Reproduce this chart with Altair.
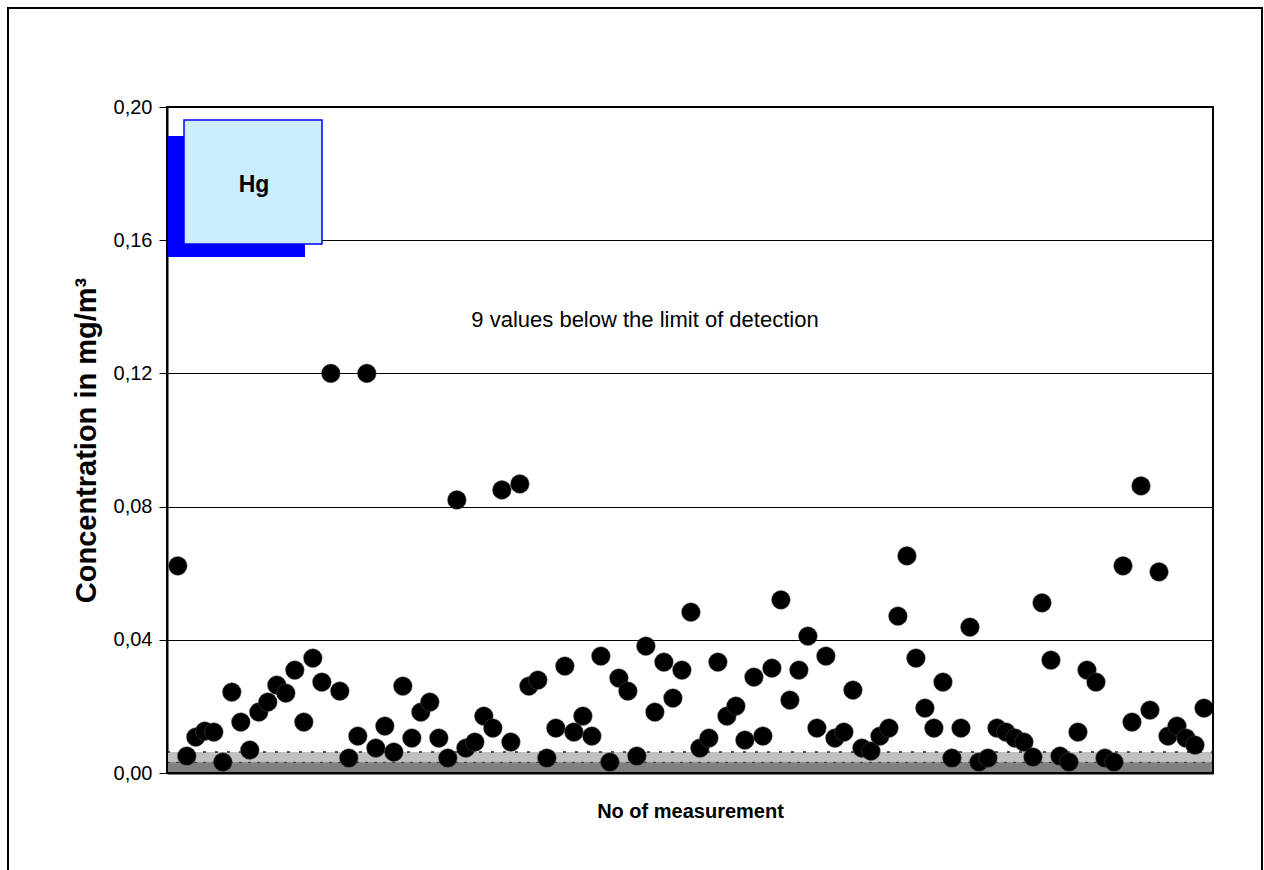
import altair as alt
import pandas as pd

# ---------------- data ----------------
measurement = list(range(1, 116))
concentration = [
    0.0622, 0.0051, 0.0108, 0.0126, 0.0123, 0.0033, 0.0243, 0.0153, 0.0069, 0.0183,
    0.0213, 0.0264, 0.0240, 0.0309, 0.0153, 0.0345, 0.0273, 0.1200, 0.0246, 0.0045,
    0.0111, 0.1200, 0.0075, 0.0141, 0.0063, 0.0261, 0.0105, 0.0183, 0.0213, 0.0105,
    0.0045, 0.0820, 0.0075, 0.0093, 0.0171, 0.0135, 0.0850, 0.0093, 0.0868, 0.0261,
    0.0279, 0.0045, 0.0135, 0.0321, 0.0123, 0.0171, 0.0111, 0.0351, 0.0033, 0.0285,
    0.0246, 0.0051, 0.0381, 0.0183, 0.0333, 0.0225, 0.0309, 0.0483, 0.0075, 0.0105,
    0.0333, 0.0171, 0.0201, 0.0099, 0.0288, 0.0111, 0.0315, 0.0520, 0.0219, 0.0309,
    0.0411, 0.0135, 0.0351, 0.0105, 0.0123, 0.0249, 0.0075, 0.0066, 0.0111, 0.0135,
    0.0471, 0.0652, 0.0345, 0.0195, 0.0135, 0.0273, 0.0045, 0.0135, 0.0438, 0.0033,
    0.0045, 0.0135, 0.0123, 0.0105, 0.0093, 0.0048, 0.0511, 0.0339, 0.0051, 0.0033,
    0.0123, 0.0309, 0.0273, 0.0045, 0.0033, 0.0622, 0.0153, 0.0862, 0.0189, 0.0604,
    0.0111, 0.0141, 0.0105, 0.0084, 0.0195,
]
lod_upper = [0.0063]
lod_lower = [0.0032]
y_ticks = [0.00, 0.04, 0.08, 0.12, 0.16, 0.20]
annotation = "9 values below  the limit of detection"
element = "Hg"

FONT = "Liberation Sans"
W, H = 1046, 666
PAD_L, PAD_T = 167, 107

df = pd.DataFrame({"n": measurement, "c": concentration})
band_hi = pd.DataFrame({"lo": [0.0], "c": lod_upper})
band_lo = pd.DataFrame({"lo": [0.0], "c": lod_lower})
one = pd.DataFrame({"a": [0]})

x_scale = alt.Scale(domain=[-0.2, 116], nice=False, zero=False)
y_scale = alt.Scale(domain=[0, 0.2], nice=False)

x_axis = alt.Axis(title="No of measurement", labels=False, ticks=False, grid=False,
                  domain=True, domainColor="black", domainWidth=2,
                  titleFont=FONT, titleFontSize=20, titleFontWeight="bold",
                  titleColor="black", titlePadding=28)
y_axis = alt.Axis(values=y_ticks, title="Concentration in mg/m³",
                  labelExpr="replace(format(datum.value, '.2f'), '.', ',')",
                  grid=True, gridColor="black", gridWidth=1, gridOpacity=1,
                  tickColor="black", tickSize=8, tickWidth=1,
                  labelFont=FONT, labelFontSize=20, labelColor="black", labelPadding=7,
                  domainColor="black", domainWidth=2,
                  titleFont=FONT, titleFontSize=29, titleFontWeight="bold",
                  titleColor="black", titlePadding=12)

X = alt.X("n:Q", scale=x_scale, axis=x_axis)
Y = alt.Y("c:Q", scale=y_scale, axis=y_axis)

light_band = alt.Chart(band_hi).mark_rect(color="#C0C0C0").encode(
    x=alt.value(0), x2=alt.value(W),
    y=alt.Y("lo:Q", scale=y_scale, axis=y_axis), y2="c:Q")
dark_band = alt.Chart(band_lo).mark_rect(color="#808080").encode(
    x=alt.value(0), x2=alt.value(W),
    y=alt.Y("lo:Q", scale=y_scale, axis=y_axis), y2="c:Q")
hi_rule = alt.Chart(band_hi).mark_rule(color="#222", strokeWidth=1.5, strokeDash=[3, 9]).encode(
    x=alt.value(0), x2=alt.value(W), y=Y)
lo_rule = alt.Chart(band_lo).mark_rule(color="#333", strokeWidth=1, strokeDash=[3, 6]).encode(
    x=alt.value(0), x2=alt.value(W), y=Y)

points = alt.Chart(df).mark_point(filled=True, shape="circle", size=350, color="black",
                                  opacity=1, stroke="#555", strokeWidth=0.5).encode(x=X, y=Y)

note = alt.Chart(one).mark_text(text=annotation, font=FONT, fontSize=22, color="black",
                                align="center", baseline="middle").encode(
    x=alt.value(645 - PAD_L), y=alt.value(320 - PAD_T))

shadow = alt.Chart(one).mark_rect(color="#0000FF").encode(
    x=alt.value(167 - PAD_L), x2=alt.value(305 - PAD_L),
    y=alt.value(136 - PAD_T), y2=alt.value(257 - PAD_T))
box = alt.Chart(one).mark_rect(fill="#CCECFF", stroke="#0000FF", strokeWidth=1.5).encode(
    x=alt.value(184 - PAD_L), x2=alt.value(322 - PAD_L),
    y=alt.value(120 - PAD_T), y2=alt.value(244 - PAD_T))
box_text = alt.Chart(one).mark_text(text=element, font=FONT, fontSize=23, fontWeight="bold",
                                    color="black", align="center", baseline="alphabetic").encode(
    x=alt.value(254 - PAD_L), y=alt.value(192 - PAD_T))

plot_border = alt.Chart(one).mark_rect(filled=False, fill=None, stroke="black", strokeWidth=2).encode(
    x=alt.value(0), x2=alt.value(W), y=alt.value(0), y2=alt.value(H))

frame = alt.Chart(one).mark_rect(filled=False, fill=None, stroke="black", strokeWidth=2).encode(
    x=alt.value(8 - PAD_L), x2=alt.value(1262 - PAD_L),
    y=alt.value(8 - PAD_T), y2=alt.value(900 - PAD_T))

chart = alt.layer(
    light_band, dark_band, hi_rule, lo_rule, points, note, shadow, box, box_text,
    plot_border, frame
).properties(
    width=W, height=H,
    padding={"left": PAD_L, "top": PAD_T, "right": 1264 - PAD_L - W, "bottom": 870 - PAD_T - H},
    autosize=alt.AutoSizeParams(type="none"),
).configure_view(
    stroke="black", strokeWidth=1.5
).configure(
    font=FONT, background="white"
)

chart.save("out.html", embed_options={"renderer": "svg", "actions": False})
